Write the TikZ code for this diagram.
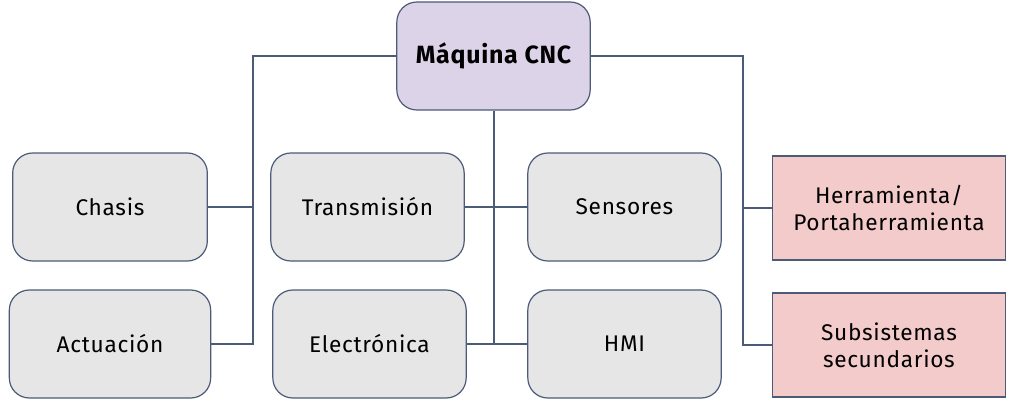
\documentclass[tikz,border=0pt]{standalone}
\usepackage{fontspec}
\setmainfont[LetterSpace=3]{Fira Sans}
\definecolor{linea}{HTML}{4B5B78}
\definecolor{raiz}{HTML}{DCD3E8}
\definecolor{gris}{HTML}{E6E6E6}
\definecolor{rosa}{HTML}{F3CBCB}
\tikzset{
  caja/.style={draw=linea,line width=0.9pt,fill=gris,rounded corners=15pt,
    minimum width=145pt,minimum height=81pt,align=center,font=\fontsize{17}{20.5}\selectfont},
  cajaroja/.style={draw=linea,line width=0.9pt,fill=rosa,
    minimum width=175pt,minimum height=78pt,align=center,font=\fontsize{17}{20.5}\selectfont},
  rama/.style={draw=linea,line width=1pt}
}
\begin{document}
\begin{tikzpicture}[x=0.75pt,y=-0.75pt]
  \useasboundingbox (0,0) rectangle (1016,403);
	% raiz
	\node[caja,fill=raiz,font=\fontsize{18.7}{20}\selectfont\bfseries] (cnc) at (493.5,56) {Máquina CNC};
	% columna izquierda
	\node[caja,minimum width=146pt] (chasis) at (110,207) {Chasis};
	\node[caja,minimum width=151pt] (actuacion) at (110,344) {Actuación};
	% columna central
	\node[caja] (transmision) at (367.5,207) {Transmisión};
	\node[caja] (electronica) at (369.5,344) {Electrónica};
	\node[caja] (sensores) at (624.5,207) {Sensores};
	\node[caja] (hmi) at (624.5,344) {HMI};
	% columna derecha
	\node[cajaroja] (herramienta) at (889,208) {Herramienta/\\Portaherramienta};
	\node[cajaroja] (subsistemas) at (889,345) {Subsistemas\\secundarios};
	% troncos
	\coordinate (izq) at (253,56);
	\coordinate (der) at (743,56);
	\draw[rama] (cnc.west) -- (izq) |- (actuacion.east);
	\draw[rama] (chasis.east) -- (chasis.east -| izq);
	\draw[rama] (cnc.east) -- (der) |- (subsistemas.west);
	\draw[rama] (herramienta.west) -- (herramienta.west -| der);
	\draw[rama] ([xshift=0.4pt]cnc.south) -- ([xshift=0.4pt]cnc.south |- hmi.west);
	\draw[rama] (transmision.east) -- (sensores.west);
	\draw[rama] (electronica.east) -- (hmi.west);
\end{tikzpicture}
\end{document}
